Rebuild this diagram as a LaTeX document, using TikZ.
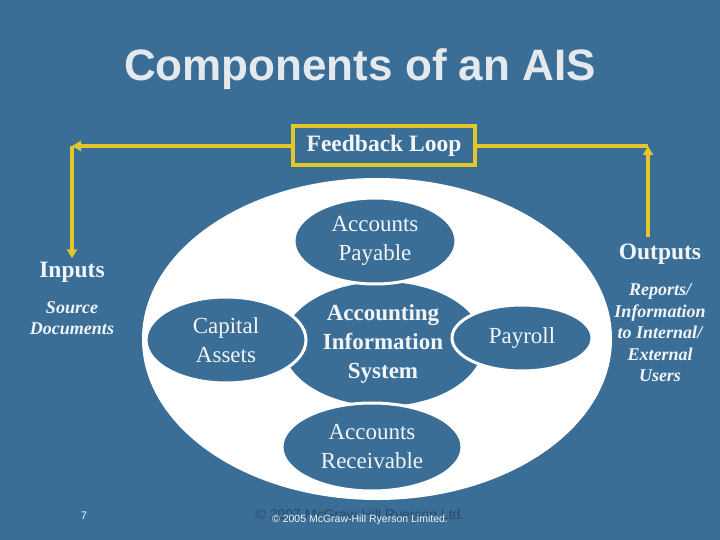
\documentclass[tikz,border=0pt]{standalone}
\usepackage{fontspec}
\setmainfont{Liberation Serif}
\setsansfont{Liberation Sans}
\usetikzlibrary{arrows.meta,positioning,shapes.geometric}
\definecolor{slide}{HTML}{3B6E97}
\definecolor{loopyellow}{HTML}{E2C62C}
\definecolor{paletext}{HTML}{F2F5F8}
\definecolor{titletext}{HTML}{E4E9EE}
\definecolor{darknote}{HTML}{2A4B6B}

\begin{document}
\begin{tikzpicture}[
    x=1pt, y=-1pt,
    text=paletext,
    part/.style={ellipse, draw=white, line width=3pt, fill=slide, inner sep=0pt, align=center, font=\fontsize{23}{29}\selectfont},
    side/.style={align=center, font=\bfseries\fontsize{23.5}{27}\selectfont},
    sidenote/.style={align=center, font=\bfseries\itshape\fontsize{18}{21.5}\selectfont},
    loopline/.style={draw=loopyellow, line width=4pt},
    arrow/.style={loopline, -{Triangle[length=9pt, width=10pt]}}
]
\fill[slide] (0,0) rectangle (720,540);
\useasboundingbox (0,0) rectangle (720,540);

\node[text=titletext, font=\sffamily\bfseries\fontsize{44}{50}\selectfont] (title) at (360,69) {Components of an AIS};

\node[draw=loopyellow, line width=4pt, fill=slide, minimum width=182pt, minimum height=39pt, font=\bfseries\fontsize{23.5}{27}\selectfont] (fb) at (384,146) {Feedback Loop};

% the system and its parts
\node[ellipse, fill=white, minimum width=470pt, minimum height=322pt, inner sep=0pt] (sys) at (377,339) {};
\node[part, draw=none, minimum width=200pt, minimum height=124pt, font=\bfseries\fontsize{23}{29}\selectfont] (core) at (383,344) {Accounting\\Information\\System};
\node[part, minimum width=162pt, minimum height=86pt] (ap) at (375,241) {Accounts\\Payable};
\node[part, minimum width=160pt, minimum height=86pt] (ca) at (226,340) {Capital\\Assets};
\node[part, minimum width=140pt, minimum height=66pt] (pay) at (522,338) {Payroll};
\node[part, minimum width=180pt, minimum height=88pt] (ar) at (372,447) {Accounts\\Receivable};

% inputs and outputs
\node[side] (inputs) at (72,272) {Inputs};
\node[sidenote] (src) at (72,318) {Source\\Documents};
\node[side] (outputs) at (660,254) {Outputs};
\node[sidenote] (rep) at (660,333) {Reports/\\Information\\to Internal/\\External\\Users};

\coordinate (lcorner) at (72,146);
\coordinate (rcorner) at (648,146);
\coordinate (rfoot) at (648,237);
\draw[arrow] (fb.west) -- (lcorner);
\draw[arrow] (lcorner) -- (inputs.north);
\draw[arrow] (rfoot) -- (rcorner);
\draw[loopline] (rcorner) -- (fb.east);

% footer
\node[font=\sffamily\fontsize{11}{13}\selectfont] (page) at (84,516) {7};
\node[text=darknote, font=\sffamily\fontsize{14}{16}\selectfont] (copy) at (360,516) {\textcopyright{} 2007 McGraw-Hill Ryerson Ltd.};
\node[font=\sffamily\fontsize{10.5}{12}\selectfont] (copynew) at (360,520) {\textcopyright{} 2005 McGraw-Hill Ryerson Limited.};
\end{tikzpicture}
\end{document}
